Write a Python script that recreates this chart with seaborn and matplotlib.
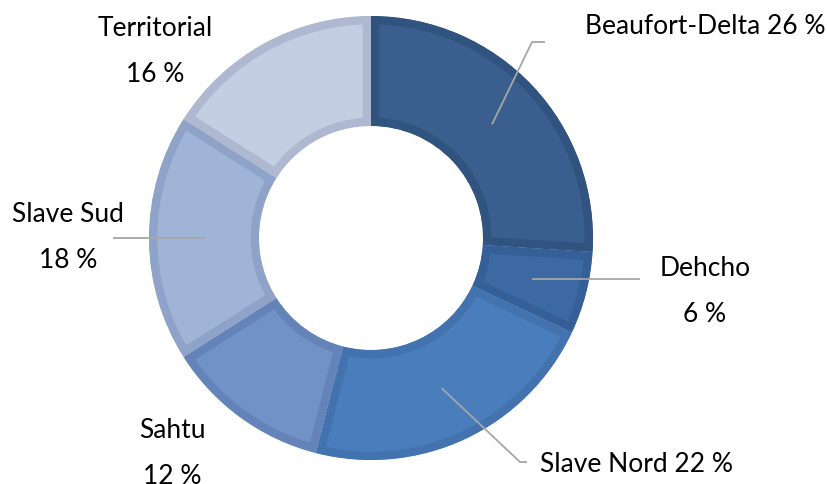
import numpy as np
import matplotlib
matplotlib.use("Agg")
import matplotlib.pyplot as plt
import seaborn as sns

sns.set_theme(style="white")
plt.rcParams["font.family"] = ["Lato", "DejaVu Sans"]

regions = ["Beaufort-Delta", "Dehcho", "Slave Nord", "Sahtu", "Slave Sud", "Territorial"]
shares = [26, 6, 22, 12, 18, 16]
face_colors = ["#3a5e8e", "#3d69a3", "#4a7dbb", "#7192c7", "#9fb4d7", "#c3cee3"]
edge_colors = ["#30537f", "#355f97", "#4273af", "#6483b9", "#8fa3c9", "#aeb8d0"]

# label layout (figure pixels, y up), one entry per region
label_pos = [(705, 457), (705, 216), (637, 20), (172, 54), (68, 269), (155, 456)]
two_lines = [False, True, False, True, True, True]
# leader lines: (elbow, end) in pixels; None = no leader
leaders = [((532, 442), (545, 442)), (None, 640), ((520, 22), (527, 22)),
           None, (None, 113), None]

fig = plt.figure(figsize=(8.28, 4.84), dpi=100)
ax = fig.add_axes([0, 0, 1, 1])
cx, cy, R = 371, 246, 222

wedges, _ = ax.pie(shares, startangle=90, counterclock=False, colors=face_colors,
                   radius=R, center=(cx, cy), frame=True,
                   wedgeprops=dict(width=R - 112, linewidth=12, joinstyle="miter"))
for w, ec in zip(wedges, edge_colors):
    w.set_edgecolor(ec)
    w.set_clip_on(True)
    w.set_clip_path(w)  # keep only the inner half of the border

ax.set_xlim(0, 828)
ax.set_ylim(0, 484)
ax.set_aspect("equal")
ax.axis("off")

fs = 19
for i, (name, v) in enumerate(zip(regions, shares)):
    x, y = label_pos[i]
    if two_lines[i]:
        ax.text(x, y, name, ha="center", va="center", fontsize=fs, color="black")
        ax.text(x, y - 46, f"{v} %", ha="center", va="center", fontsize=fs, color="black")
    else:
        ax.text(x, y, f"{name} {v} %", ha="center", va="center", fontsize=fs, color="black")

    if leaders[i] is None:
        continue
    w = wedges[i]
    mid = np.deg2rad((w.theta1 + w.theta2) / 2)
    sx, sy = cx + 166 * np.cos(mid), cy + 166 * np.sin(mid)
    elbow, end = leaders[i]
    if elbow is None:
        xs, ys = [sx, end], [sy, sy]
    else:
        xs, ys = [sx, elbow[0], end[0]], [sy, elbow[1], end[1]]
    ax.plot(xs, ys, color="#a6a6a6", lw=1.3, solid_capstyle="butt")

fig.savefig("out.png", dpi=100)
